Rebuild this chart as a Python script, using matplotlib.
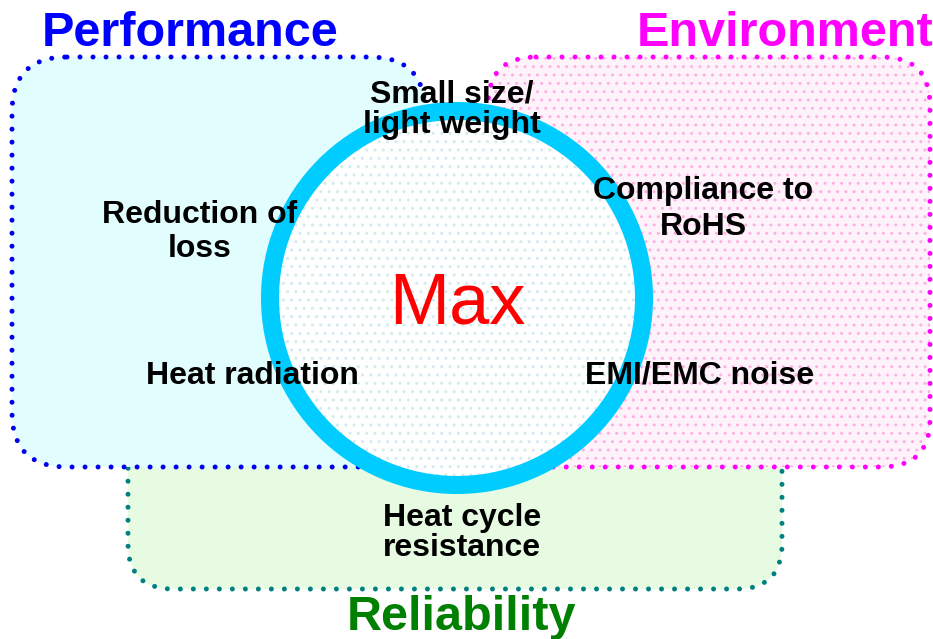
import matplotlib
matplotlib.use("Agg")
import matplotlib.pyplot as plt
from matplotlib.patches import FancyBboxPatch, Circle

plt.rcParams['font.family'] = ['Liberation Sans', 'DejaVu Sans']
plt.rcParams['hatch.linewidth'] = 1.0

# ---- content ----
category_titles = ["Performance", "Environment", "Reliability"]
category_colors = ["#0000FF", "#FF00FF", "#008000"]
center_label = "Max"
factor_labels = ["Small size/\nlight weight", "Reduction of\nloss", "Compliance to\nRoHS",
                 "Heat radiation", "EMI/EMC noise", "Heat cycle\nresistance"]

# ---- layout (pixel coordinates, y down) ----
W, H = 933, 639
title_pos = [(190, 34), (785, 34), (462, 617)]
factor_pos = [(452, 110), (200, 232), (703, 209), (252, 376), (700, 376), (462, 533)]
factor_spacing = [1.03, 1.19, 1.23, 1.0, 1.03, 1.03]

fig = plt.figure(figsize=(W / 100, H / 100), dpi=100)
ax = fig.add_axes([0, 0, 1, 1])
ax.set_xlim(0, W)
ax.set_ylim(H, 0)
ax.set_aspect('equal')
ax.axis('off')

dot_ls = (0, (0.001, 2.6))

def rbox(x0, y0, x1, y1, r, fc, ec, z, hatch=None, hc=None):
    p = FancyBboxPatch((x0, y0), x1 - x0, y1 - y0,
                       boxstyle=f"round,pad=0,rounding_size={r}",
                       facecolor=fc, edgecolor='none', zorder=z)
    ax.add_patch(p)
    if hatch:
        ph = FancyBboxPatch((x0, y0), x1 - x0, y1 - y0,
                            boxstyle=f"round,pad=0,rounding_size={r}",
                            facecolor='none', edgecolor=hc, hatch=hatch, lw=0, zorder=z + 0.1)
        ax.add_patch(ph)
    e = FancyBboxPatch((x0, y0), x1 - x0, y1 - y0,
                       boxstyle=f"round,pad=0,rounding_size={r}",
                       facecolor='none', edgecolor=ec, lw=3.6, linestyle=dot_ls, zorder=z + 0.2)
    e.set_capstyle('round')
    ax.add_patch(e)

# Reliability (behind)
rbox(128, 400, 782, 589, 45, '#E6FBE1', '#008080', 1)
# Performance
rbox(12, 57, 425, 467, 55, '#E2FDFD', '#0000EE', 2)
# Environment
rbox(488, 57, 930, 467, 48, '#FFF3FB', '#FF00FF', 3, hatch='..', hc='#FFB0E2')

# central circle
ax.add_patch(Circle((457, 298), 187, facecolor='white', edgecolor='none', zorder=5))
ax.add_patch(Circle((457, 298), 187, facecolor='none', edgecolor='#D2EBEF', hatch='..', lw=0, zorder=5.1))
ax.add_patch(Circle((457, 298), 187, facecolor='none', edgecolor='#00CCFF', lw=13, zorder=5.2))

for t, c, (x, y) in zip(category_titles, category_colors, title_pos):
    ax.text(x, y, t, color=c, fontsize=35, fontweight='bold', ha='center', va='center', zorder=10)

ax.text(457, 305, center_label, color='#FF0000', fontsize=52, ha='center', va='center', zorder=10)

for t, (x, y), ls in zip(factor_labels, factor_pos, factor_spacing):
    ax.text(x, y, t, color='black', fontsize=23, fontweight='bold', ha='center', va='center',
            linespacing=ls, zorder=10)

fig.savefig('out.png', dpi=100)
